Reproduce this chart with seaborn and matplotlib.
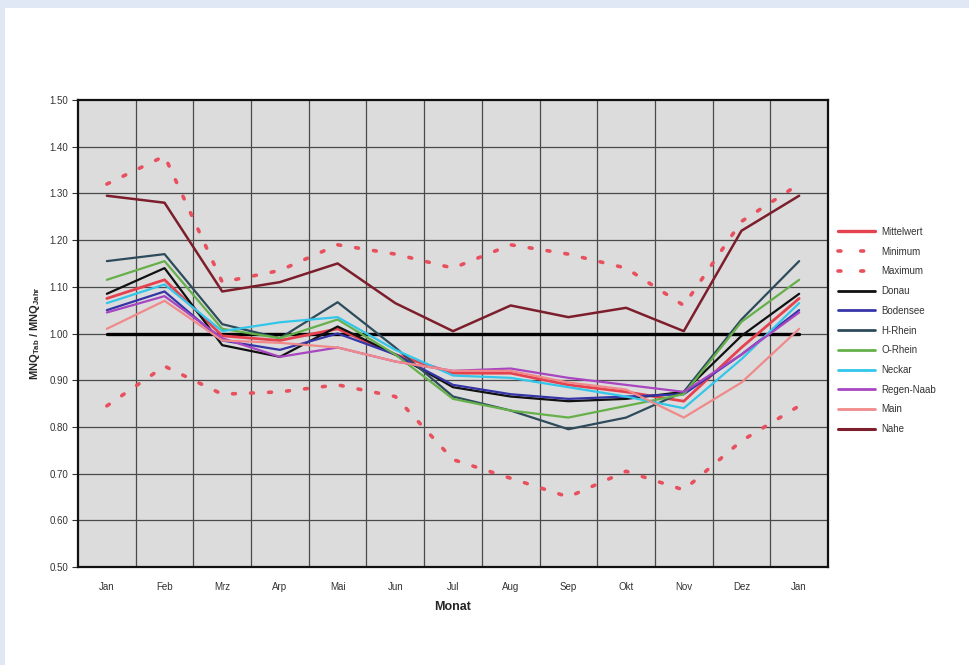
import matplotlib
matplotlib.use("Agg")
import matplotlib.pyplot as plt
import matplotlib.patches as mpatches
from matplotlib.ticker import FixedLocator, FormatStrFormatter
import numpy as np
import pandas as pd
import seaborn as sns

# Month labels (the year wraps round to January again)
months = ["Jan", "Feb", "Mrz", "Arp", "Mai", "Jun", "Jul", "Aug", "Sep", "Okt", "Nov", "Dez", "Jan"]

# Ratio MNQ_Tab / MNQ_Jahr per month
mittelwert = [1.075, 1.115, 0.995, 0.985, 1.010, 0.955, 0.915, 0.915, 0.890, 0.875, 0.855, 0.970, 1.075]
minimum    = [0.845, 0.930, 0.870, 0.875, 0.890, 0.865, 0.730, 0.690, 0.650, 0.705, 0.665, 0.770, 0.845]
maximum    = [1.320, 1.380, 1.110, 1.135, 1.190, 1.170, 1.140, 1.190, 1.170, 1.140, 1.060, 1.240, 1.320]
donau      = [1.085, 1.140, 0.975, 0.950, 1.015, 0.955, 0.885, 0.865, 0.855, 0.860, 0.875, 0.995, 1.085]
bodensee   = [1.050, 1.090, 0.985, 0.965, 1.000, 0.955, 0.890, 0.870, 0.860, 0.865, 0.870, 0.955, 1.050]
h_rhein    = [1.155, 1.170, 1.020, 0.990, 1.067, 0.970, 0.865, 0.835, 0.795, 0.820, 0.875, 1.030, 1.155]
o_rhein    = [1.115, 1.155, 1.010, 0.990, 1.030, 0.955, 0.860, 0.835, 0.820, 0.845, 0.870, 1.025, 1.115]
neckar     = [1.065, 1.105, 1.005, 1.024, 1.035, 0.965, 0.910, 0.905, 0.885, 0.865, 0.840, 0.945, 1.065]
regen_naab = [1.045, 1.080, 0.990, 0.950, 0.970, 0.940, 0.920, 0.925, 0.905, 0.890, 0.875, 0.955, 1.045]
main_fl    = [1.010, 1.070, 0.985, 0.980, 0.970, 0.940, 0.920, 0.920, 0.895, 0.880, 0.820, 0.895, 1.010]
nahe       = [1.295, 1.280, 1.090, 1.110, 1.150, 1.065, 1.005, 1.060, 1.035, 1.055, 1.005, 1.220, 1.295]
referenz   = [1.0] * 13

series = [
    ("Mittelwert", mittelwert, "#e5414f", "-", 2.0),
    ("Minimum", minimum, "#e8505e", (0, (0.8, 4.2)), 2.6),
    ("Maximum", maximum, "#e8505e", (0, (0.8, 4.2)), 2.6),
    ("Donau", donau, "#111111", "-", 1.6),
    ("Bodensee", bodensee, "#3535a8", "-", 1.6),
    ("H-Rhein", h_rhein, "#2e4b5c", "-", 1.6),
    ("O-Rhein", o_rhein, "#66b04a", "-", 1.6),
    ("Neckar", neckar, "#33c6ea", "-", 1.6),
    ("Regen-Naab", regen_naab, "#a845c0", "-", 1.6),
    ("Main", main_fl, "#f08a8a", "-", 1.6),
    ("Nahe", nahe, "#7d1e2c", "-", 1.8),
]

sns.set_theme(style="white")
plt.rcParams["font.family"] = ["Liberation Sans", "DejaVu Sans"]

fig = plt.figure(figsize=(9.69, 6.65), dpi=100)
fig.patch.set_facecolor("white")
# light blue bands at the top and left edge
fig.patches.append(mpatches.Rectangle((0, 1 - 8 / 665), 1, 8 / 665, transform=fig.transFigure,
                                      facecolor="#e1e8f5", edgecolor="none", zorder=0))
fig.patches.append(mpatches.Rectangle((0, 0), 5 / 969, 1, transform=fig.transFigure,
                                      facecolor="#e1e8f5", edgecolor="none", zorder=0))

ax = fig.add_axes([78 / 969, 1 - 567 / 665, 750 / 969, 467 / 665])
ax.set_facecolor("#dcdcdc")

x = np.arange(len(months))

# reference line at 1.00
sns.lineplot(x=x, y=referenz, ax=ax, color="black", linewidth=2.4, legend=False, zorder=2)

handles = []
for name, vals, color, ls, lw in series:
    df = pd.DataFrame({"pos": x, "wert": vals})
    sns.lineplot(data=df, x="pos", y="wert", ax=ax, color=color, linewidth=lw,
                 linestyle=ls, sort=False, legend=False, zorder=3)
    line = ax.lines[-1]
    if ls != "-":
        line.set_dash_capstyle("round")
    h = plt.Line2D([], [], color=color, linewidth=lw + 0.4 if ls == "-" else lw,
                   linestyle=ls if ls == "-" else (0, (0.8, 5.5)), dash_capstyle="round")
    handles.append((h, name))

ax.set_xlim(-0.5, 12.5)
ax.set_ylim(0.5, 1.5)

# month labels at the centres, grid and tick marks on the boundaries
ax.set_xticks(x)
ax.set_xticklabels(months)
ax.xaxis.set_minor_locator(FixedLocator(np.arange(0.5, 12.5, 1.0)))
ax.set_yticks(np.arange(0.5, 1.501, 0.1))
ax.yaxis.set_major_formatter(FormatStrFormatter("%.2f"))

ax.grid(False)
for xv in np.arange(0.5, 12.5, 1.0):
    ax.axvline(xv, color="#4a4a4a", linewidth=0.9, zorder=1)
for yv in np.arange(0.6, 1.5, 0.1):
    ax.axhline(yv, color="#4a4a4a", linewidth=0.9, zorder=1)

ax.tick_params(axis="x", which="major", length=0, labelsize=7, pad=11, colors="#333333")
ax.tick_params(axis="x", which="minor", length=4, width=0.8, color="#333333", direction="out")
ax.tick_params(axis="y", which="major", length=4, width=0.8, labelsize=7, pad=3,
               colors="#333333", direction="out", left=True)

for s in ax.spines.values():
    s.set_visible(True)
    s.set_color("#111111")
    s.set_linewidth(1.6)

ax.set_xlabel("Monat", fontsize=9, fontweight="bold", labelpad=6)
ax.set_ylabel(r"MNQ$_{\mathregular{Tab}}$ / MNQ$_{\mathregular{Jahr}}$", fontsize=8,
              fontweight="bold", labelpad=5)

leg = fig.legend([h for h, _ in handles], [n for _, n in handles],
                 loc="upper left", bbox_to_anchor=(834 / 969, 1 - 223 / 665),
                 frameon=False, fontsize=7, handlelength=3.8, handletextpad=0.7,
                 labelspacing=1.0, borderaxespad=0)
for t in leg.get_texts():
    t.set_color("#333333")

fig.savefig("out.png", dpi=100, facecolor=fig.get_facecolor())
